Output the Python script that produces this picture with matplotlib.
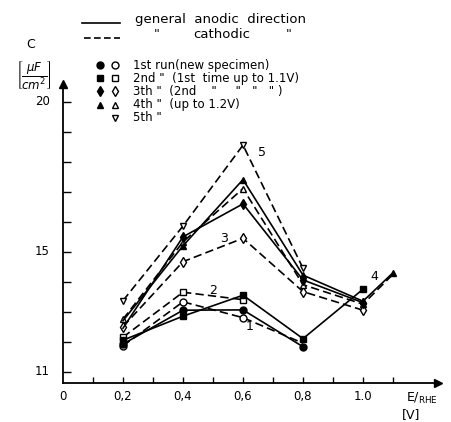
import matplotlib
matplotlib.use("Agg")
import matplotlib.pyplot as plt
from matplotlib.lines import Line2D

plt.rcParams['font.family'] = ['DejaVu Sans']
plt.rcParams['mathtext.fontset'] = 'dejavusans'

# run 1 (new specimen)
r1_an_x = [0.2, 0.4, 0.6, 0.8]
r1_an_y = [11.92, 13.05, 13.06, 11.83]
r1_ca_x = [0.2, 0.4, 0.6, 0.8]
r1_ca_y = [11.86, 13.33, 12.8, 11.95]
# run 2 (1st time up to 1.1 V)
r2_an_x = [0.2, 0.4, 0.6, 0.8, 1.0]
r2_an_y = [12.05, 12.85, 13.55, 12.1, 13.75]
r2_ca_x = [0.2, 0.4, 0.6]
r2_ca_y = [12.15, 13.65, 13.4]
# run 3
r3_an_x = [0.2, 0.4, 0.6, 0.8, 1.0]
r3_an_y = [12.45, 15.5, 16.6, 14.06, 13.3]
r3_ca_x = [0.2, 0.4, 0.6, 0.8, 1.0]
r3_ca_y = [12.5, 14.67, 15.45, 13.67, 13.05]
# run 4 (up to 1.2 V)
r4_an_x = [0.2, 0.4, 0.6, 0.8, 1.0, 1.1]
r4_an_y = [12.7, 15.2, 17.41, 14.22, 13.35, 14.3]
r4_ca_x = [0.2, 0.4, 0.6, 0.8, 1.0, 1.1]
r4_ca_y = [12.75, 15.33, 17.11, 13.9, 13.25, 14.25]
# run 5
r5_ca_x = [0.2, 0.4, 0.6, 0.8]
r5_ca_y = [13.37, 15.86, 18.56, 14.45]

curve_labels = ["1", "2", "3", "4", "5"]
label_x = [0.61, 0.488, 0.523, 1.026, 0.65]
label_y = [12.5, 13.72, 15.45, 14.19, 18.3]

x_ticks = [0.1, 0.2, 0.3, 0.4, 0.5, 0.6, 0.7, 0.8, 0.9, 1.0, 1.1]
x_labels = {0.0: "0", 0.2: "0,2", 0.4: "0,4", 0.6: "0,6", 0.8: "0,8", 1.0: "1.0"}
y_ticks = [11, 12, 13, 14, 15, 16, 17, 18, 19, 20]
y_labels = {11: "11", 15: "15", 20: "20"}

W, H = 452, 422
fig = plt.figure(figsize=(W / 100, H / 100), dpi=100)
ax = fig.add_axes([63 / W, 1 - 383 / H, 375 / W, (383 - 84) / H])
ax.set_xlim(0, 1.25)
ax.set_ylim(10.62, 20.6)

lw = 1.2
dash = (5, 2.5)


def curve(x, y, mk, filled, dashed, skip=()):
    idx = [i for i in range(len(x)) if i not in skip]
    ax.plot(x, y, color='k', lw=lw, ls=(0, dash) if dashed else '-',
            marker=mk, ms=5.5 if mk == 'd' else 5, markevery=idx,
            mfc='k' if filled else 'w', mec='k', mew=1.0)


curve(r5_ca_x, r5_ca_y, 'v', False, True)
curve(r3_ca_x, r3_ca_y, 'd', False, True)
curve(r4_ca_x, r4_ca_y, '^', False, True, skip=(5,))
curve(r3_an_x, r3_an_y, 'd', True, False, skip=(0,))
curve(r4_an_x, r4_an_y, '^', True, False, skip=(0,))
curve(r2_ca_x, r2_ca_y, 's', False, True)
curve(r1_ca_x, r1_ca_y, 'o', False, True, skip=(3,))
curve(r2_an_x, r2_an_y, 's', True, False)
curve(r1_an_x, r1_an_y, 'o', True, False)

for t, lx, ly in zip(curve_labels, label_x, label_y):
    ax.text(lx, ly, t, fontsize=9, ha='left', va='center')

ax.spines['top'].set_visible(False)
ax.spines['right'].set_visible(False)
ax.spines['left'].set_linewidth(1.3)
ax.spines['bottom'].set_linewidth(1.3)
ax.plot(1, 0, '>k', ms=6, transform=ax.transAxes, clip_on=False)
ax.plot(0, 1, '^k', ms=6, transform=ax.transAxes, clip_on=False)

ax.set_xticks(x_ticks)
ax.set_xticklabels([])
ax.tick_params(axis='x', direction='in', length=4, width=1)
ax.set_yticks(y_ticks)
ax.set_yticklabels([])
ax.tick_params(axis='y', direction='in', length=6, width=1)
for v, s in x_labels.items():
    ax.text(v, -0.045, s, transform=ax.get_xaxis_transform(), ha='center', va='center', fontsize=8.5)
for v, s in y_labels.items():
    ax.text(-0.035, v, s, transform=ax.get_yaxis_transform(), ha='right', va='center', fontsize=8.5)

# axis titles
fig.text(31 / W, 1 - 44 / H, "C", ha='center', va='center', fontsize=9)
fig.text(34 / W, 1 - 75 / H, r"$\left[\dfrac{\mu F}{cm^2}\right]$", ha='center', va='center', fontsize=8.5)
fig.text(406 / W, 1 - 398 / H, r"E/$_{\mathrm{RHE}}$", ha='left', va='center', fontsize=9)
fig.text(402 / W, 1 - 415 / H, "[V]", ha='left', va='center', fontsize=9)

# legend block
fig.add_artist(Line2D([82 / W, 120 / W], [1 - 23 / H, 1 - 23 / H], color='k', lw=lw))
fig.add_artist(Line2D([84 / W, 120 / W], [1 - 38 / H, 1 - 38 / H], color='k', lw=lw, ls=(0, (4, 2))))
fig.text(135 / W, 1 - 20 / H, "general  anodic  direction", ha='left', va='center', fontsize=9.5)
fig.text(157 / W, 1 - 35 / H, '"', ha='center', va='center', fontsize=9)
fig.text(193 / W, 1 - 35 / H, "cathodic", ha='left', va='center', fontsize=9.5)
fig.text(289 / W, 1 - 35 / H, '"', ha='center', va='center', fontsize=9)

rows = [("o", True, "1st run(new specimen)"),
        ("s", True, '2nd "  (1st  time up to 1.1V)'),
        ("d", True, '3th "  (2nd    "     "   "   " )'),
        ("^", True, '4th "  (up to 1.2V)'),
        ("v", False, '5th "')]
for i, (mk, has_filled, txt) in enumerate(rows):
    yy = 1 - (65 + i * 13.2) / H
    if has_filled:
        fig.add_artist(Line2D([100 / W], [yy], marker=mk, ms=5, color='k', mfc='k', ls='none'))
    fig.add_artist(Line2D([115 / W], [yy], marker=mk, ms=5, color='k', mfc='w', ls='none', mew=1))
    fig.text(133 / W, yy, txt, ha='left', va='center', fontsize=8.5)

fig.savefig("out.png", dpi=100)
